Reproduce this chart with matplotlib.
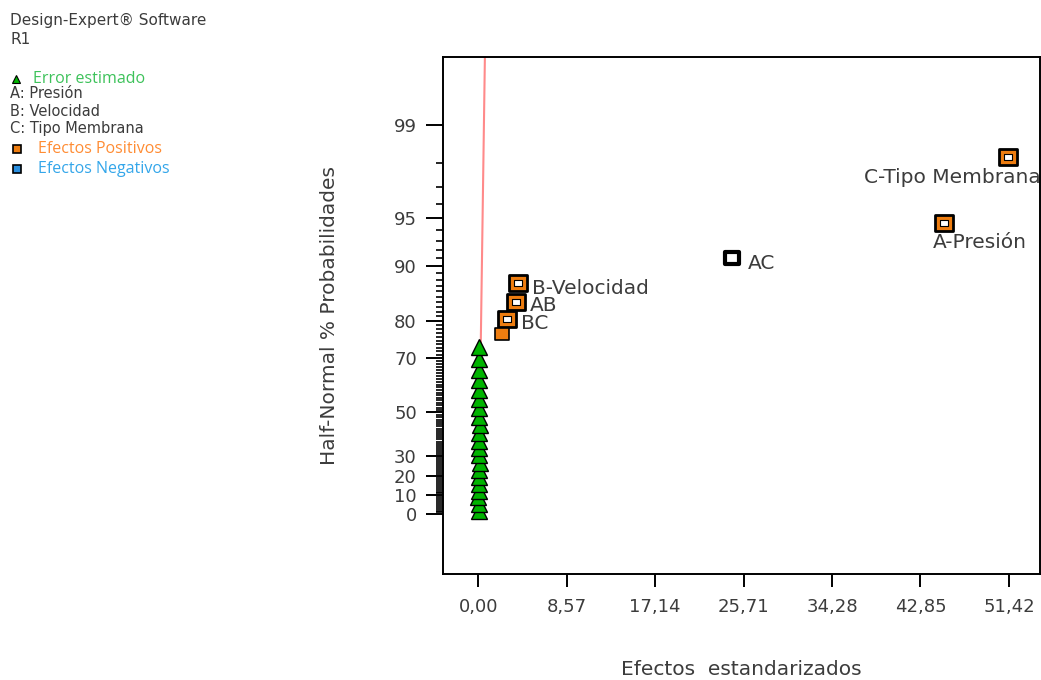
import numpy as np
import matplotlib
matplotlib.use("Agg")
import matplotlib.pyplot as plt
from statistics import NormalDist
from matplotlib.path import Path

# ---------------- data ----------------
error_x = [0.06, 0.10, 0.02, 0.12, 0.05, 0.09, 0.03, 0.14, 0.07, 0.04,
           0.11, 0.08, 0.13, 0.05, 0.10, 0.06, 0.12, 0.09, 0.07, 0.11, 0.08]
error_pct = [1.79, 5.36, 8.93, 12.50, 16.07, 19.64, 23.21, 26.79, 30.36, 33.93,
             37.50, 41.07, 44.64, 48.21, 51.79, 55.36, 58.93, 62.50, 66.07, 69.64, 73.21]

effect_names = ["C-Tipo Membrana", "A-Presión", "AC", "B-Velocidad", "AB", "BC", ""]
effect_x = [51.36, 45.16, 24.61, 3.88, 3.62, 2.75, 2.33]
effect_pct = [98.21, 94.64, 91.07, 87.50, 83.93, 80.36, 76.79]

fit_x = [0.24, 0.70]
fit_pct = [73.21, 99.90]

x_ticks = [0.00, 8.57, 17.14, 25.71, 34.28, 42.85, 51.42]
x_tick_labels = ["0,00", "8,57", "17,14", "25,71", "34,28", "42,85", "51,42"]
y_ticks = [0, 10, 20, 30, 50, 70, 80, 90, 95, 99]
y_minor = [v for v in range(1, 99) if v not in y_ticks]

# ---------------- half-normal probability scale ----------------
_nd = NormalDist()


def _fwd(p):
    p = np.asarray(p, dtype=float)
    out = np.zeros_like(p)
    flat = p.ravel()
    res = out.ravel()
    for i, v in enumerate(flat):
        if not np.isfinite(v):
            res[i] = v
            continue
        q = min(abs(v), 99.999999) / 100.0
        res[i] = np.sign(v) * _nd.inv_cdf(0.5 + q / 2.0)
    return res.reshape(p.shape)


def _inv(z):
    z = np.asarray(z, dtype=float)
    out = np.zeros_like(z)
    flat = z.ravel()
    res = out.ravel()
    for i, v in enumerate(flat):
        if np.isnan(v):
            res[i] = v
            continue
        res[i] = np.sign(v) * (2.0 * _nd.cdf(abs(v)) - 1.0) * 100.0
    return res.reshape(z.shape)


TXT = "#3c3c3c"
ORANGE = "#ee7d10"
plt.rcParams["font.family"] = ["DejaVu Sans"]

fig = plt.figure(figsize=(10.41, 6.80), dpi=100)
ax = fig.add_axes([0.4258, 0.1559, 0.5732, 0.7603])
ax.set_yscale("function", functions=(_fwd, _inv))
ax.set_xlim(-3.39, 54.43)
ax.set_ylim(-30.7, 99.754)

# fitted line
ax.plot(fit_x, fit_pct, color="#ff8a8a", lw=1.5, zorder=2)

# error points
ax.plot(error_x, error_pct, linestyle="none", marker="^", markersize=11.5,
        markerfacecolor="#00b400", markeredgecolor="black", markeredgewidth=1.0,
        zorder=3)

# rectangular marker slightly wider than tall
rect = Path([(-1.15, -1), (1.15, -1), (1.15, 1), (-1.15, 1), (-1.15, -1)],
            [Path.MOVETO, Path.LINETO, Path.LINETO, Path.LINETO, Path.CLOSEPOLY])

styles = ["pos", "pos", "ac", "pos", "pos", "pos", "solid"]
offsets = {
    "C-Tipo Membrana": ((23.5, -15.0), "right"),
    "A-Presión": ((-8.0, -14.5), "left"),
    "AC": ((11.3, -4.5), "left"),
    "B-Velocidad": ((9.8, -4.0), "left"),
    "AB": ((10.0, -2.2), "left"),
    "BC": ((10.3, -3.2), "left"),
}

for name, xv, pv, st in zip(effect_names, effect_x, effect_pct, styles):
    if st == "pos":
        ax.plot([xv], [pv], linestyle="none", marker=rect, markersize=12.5,
                markerfacecolor=ORANGE, markeredgecolor="black",
                markeredgewidth=2.0, zorder=4)
        ax.plot([xv], [pv], linestyle="none", marker=rect, markersize=5.5,
                markerfacecolor="white", markeredgecolor="black",
                markeredgewidth=0.8, zorder=5)
    elif st == "ac":
        ax.plot([xv], [pv], linestyle="none", marker=rect, markersize=10,
                markerfacecolor="white", markeredgecolor="black",
                markeredgewidth=3.0, zorder=4)
    else:
        ax.plot([xv], [pv], linestyle="none", marker=rect, markersize=9.5,
                markerfacecolor=ORANGE, markeredgecolor="black",
                markeredgewidth=1.2, zorder=4)
    if name:
        (dx, dy), ha = offsets[name]
        ax.annotate(name, (xv, pv), xytext=(dx, dy), textcoords="offset points",
                    ha=ha, va="center", fontsize=14.5, color=TXT,
                    annotation_clip=False, zorder=6)

# axes styling
for s in ax.spines.values():
    s.set_linewidth(1.4)
    s.set_color("black")

ax.set_xticks(x_ticks)
ax.set_xticklabels(x_tick_labels)
ax.set_yticks(y_ticks)
ax.set_yticklabels([str(v) for v in y_ticks])
ax.set_yticks(y_minor, minor=True)
ax.tick_params(axis="x", which="major", direction="out", length=9.5, width=1.4,
               labelsize=13, labelcolor=TXT, pad=8)
ax.tick_params(axis="y", which="major", direction="out", length=12, width=1.4,
               labelsize=13, labelcolor=TXT, pad=7)
ax.tick_params(axis="y", which="minor", direction="out", length=5, width=1.2,
               color="black")
ax.tick_params(axis="x", which="minor", bottom=False)

ax.set_xlabel("Efectos  estandarizados", fontsize=14.5, color=TXT)
ax.set_ylabel("Half-Normal % Probabilidades", fontsize=14.5, color=TXT)
ax.xaxis.set_label_coords(0.5, -0.1857)
ax.xaxis.label.set_va("center")
ax.yaxis.set_label_coords(-0.19, 0.5)
ax.yaxis.label.set_va("center")

# ---------------- header / legend (figure pixel coordinates) ----------------
W, H = 1041.0, 680.0


def fx(px):
    return px / W


def fy(py):
    return 1.0 - py / H


fig.text(fx(10), fy(20), "Design-Expert® Software", fontsize=11, color=TXT,
         va="center", ha="left")
fig.text(fx(10), fy(39), "R1", fontsize=11, color=TXT, va="center", ha="left")

ov = fig.add_axes([0, 0, 1, 1], zorder=-1)
ov.set_xlim(0, W)
ov.set_ylim(H, 0)
ov.axis("off")
ov.plot([16], [79], marker="^", markersize=6, markerfacecolor="#00b400",
        markeredgecolor="black", markeredgewidth=0.8, linestyle="none")
ov.plot([17], [149], marker="s", markersize=5.5, markerfacecolor=ORANGE,
        markeredgecolor="black", markeredgewidth=1.2, linestyle="none")
ov.plot([17], [169], marker="s", markersize=5.5, markerfacecolor="#2a8fe0",
        markeredgecolor="black", markeredgewidth=1.2, linestyle="none")

fig.text(fx(33), fy(79), "Error estimado", fontsize=11.5, color="#3dc25a",
         va="center", ha="left", family=["Open Sans", "DejaVu Sans"])
fig.text(fx(10), fy(94), "A: Presión", fontsize=10.5, color=TXT, va="center")
fig.text(fx(10), fy(111), "B: Velocidad", fontsize=10.5, color=TXT, va="center")
fig.text(fx(10), fy(129), "C: Tipo Membrana", fontsize=10.5, color=TXT, va="center")
fig.text(fx(38), fy(149), "Efectos Positivos", fontsize=11.5, color="#ff8c33",
         va="center", ha="left", family=["Open Sans", "DejaVu Sans"])
fig.text(fx(38), fy(169), "Efectos Negativos", fontsize=11.5, color="#33a6ea",
         va="center", ha="left", family=["Open Sans", "DejaVu Sans"])

fig.savefig("out.png", dpi=100)
